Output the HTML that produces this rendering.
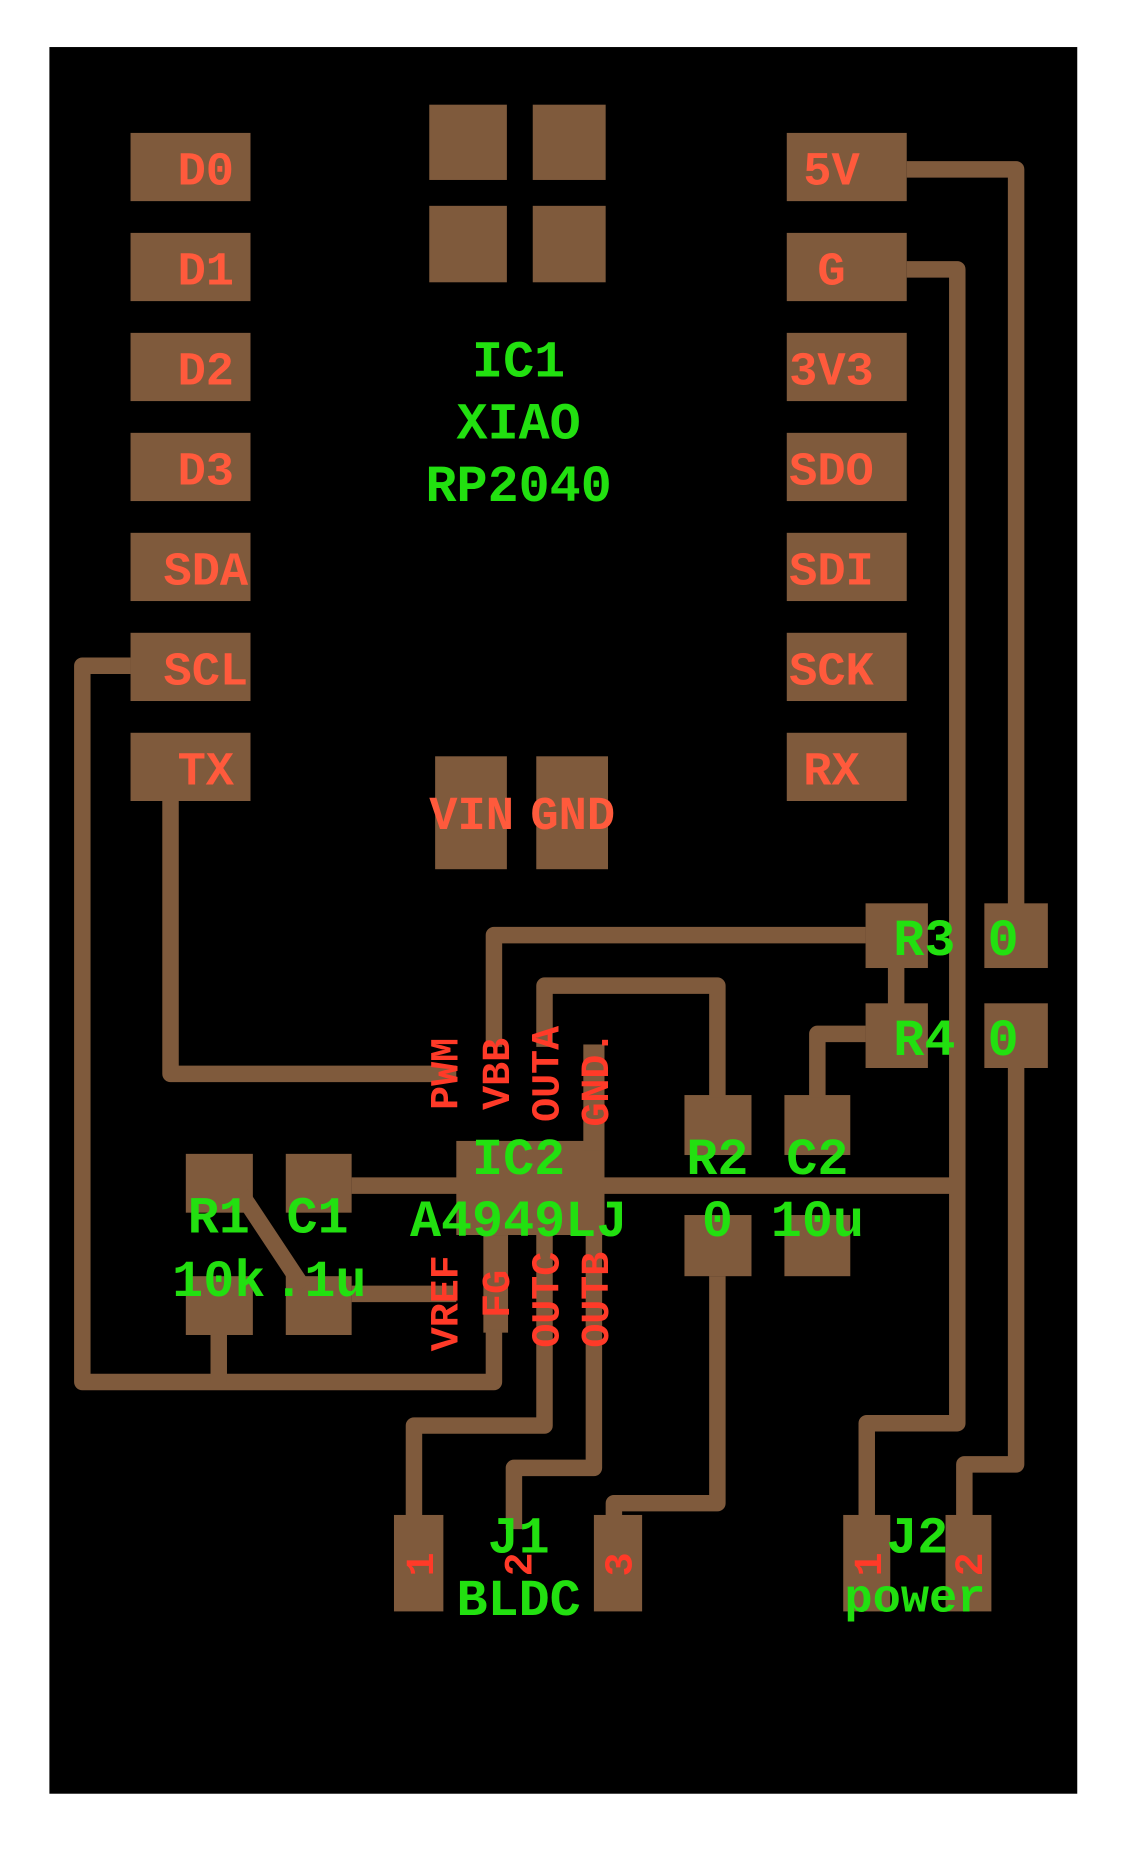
<!DOCTYPE html>
<html><head><meta charset="utf-8"><style>html,body{margin:0;padding:0;background:#fff}svg{display:block}</style></head>
<body>
<svg width="1129" height="1849" viewBox="0 0 960 1572" preserveAspectRatio="none" xmlns="http://www.w3.org/2000/svg">
<rect x="0" y="0" width="960" height="1572" fill="#fff"/>
<rect x="42" y="40" width="874" height="1485" fill="#000"/>
<g fill="#7f5a3c">
<rect x="111" y="113" width="102" height="58"/><rect x="111" y="198" width="102" height="58"/><rect x="111" y="283" width="102" height="58"/><rect x="111" y="368" width="102" height="58"/><rect x="111" y="453" width="102" height="58"/><rect x="111" y="538" width="102" height="58"/><rect x="111" y="623" width="102" height="58"/>
<rect x="669" y="113" width="102" height="58"/><rect x="669" y="198" width="102" height="58"/><rect x="669" y="283" width="102" height="58"/><rect x="669" y="368" width="102" height="58"/><rect x="669" y="453" width="102" height="58"/><rect x="669" y="538" width="102" height="58"/><rect x="669" y="623" width="102" height="58"/>
<rect x="365" y="89" width="66" height="64"/><rect x="453" y="89" width="62" height="64"/><rect x="365" y="175" width="66" height="65"/><rect x="453" y="175" width="62" height="65"/>
<rect x="370" y="643" width="61" height="96"/><rect x="456" y="643" width="61" height="96"/>
<rect x="736" y="768" width="53" height="55"/><rect x="837" y="768" width="54" height="55"/>
<rect x="736" y="853" width="53" height="55"/><rect x="837" y="853" width="54" height="55"/>
<rect x="582" y="931" width="57" height="51"/><rect x="582" y="1033" width="57" height="52"/>
<rect x="667" y="931" width="56" height="51"/><rect x="667" y="1033" width="56" height="52"/>
<rect x="158" y="981" width="57" height="50"/><rect x="158" y="1085" width="57" height="50"/>
<rect x="243" y="981" width="56" height="50"/><rect x="243" y="1085" width="56" height="50"/>
<rect x="388" y="970" width="126" height="80"/><rect x="496" y="888" width="18" height="90"/>
<rect x="411" y="1050" width="21" height="83"/>
<rect x="335" y="1288" width="42" height="82"/><rect x="505" y="1288" width="41" height="82"/>
<rect x="717" y="1288" width="40" height="82"/><rect x="804" y="1288" width="39" height="82"/>
</g>
<g fill="none" stroke="#7f5a3c" stroke-width="14" stroke-linejoin="round">
<path d="M771 144 H864 V770"/>
<path d="M771 229 H814 V1210 H737 V1292"/>
<path d="M299 1008 H814"/>
<path d="M864 905 V1245 H820 V1292"/>
<path d="M736 795 H420 V890"/>
<path d="M762 820 V856"/>
<path d="M736 879 H695 V933"/>
<path d="M463 890 V838 H610 V933"/>
<path d="M145 681 V913 H388"/>
<path d="M111 566 H70 V1175 H420 V1130"/>
<path d="M186 1135 V1175"/>
<path d="M205 1015 L258 1095"/>
<path d="M299 1100 H388"/>
<path d="M463 1050 V1212 H352 V1292"/>
<path d="M505 1050 V1248 H437 V1300"/>
<path d="M610 1085 V1278 H522 V1292"/>
</g>
<g font-family="Liberation Mono, monospace" font-weight="bold" font-size="40" fill="#ff5a3c" text-anchor="middle">
<text x="175" y="157">D0</text><text x="175" y="242">D1</text><text x="175" y="327">D2</text><text x="175" y="412">D3</text><text x="175" y="497">SDA</text><text x="175" y="582">SCL</text><text x="175" y="667">TX</text>
<text x="707" y="157">5V</text><text x="707" y="242">G</text><text x="707" y="327">3V3</text><text x="707" y="412">SDO</text><text x="707" y="497">SDI</text><text x="707" y="582">SCK</text><text x="707" y="667">RX</text>
<text x="401" y="705">VIN</text><text x="487" y="705">GND</text>
</g>
<g font-family="Liberation Mono, monospace" font-weight="bold" font-size="34" fill="#ff3a28" text-anchor="middle">
<text transform="translate(389,913) rotate(-90)">PWM</text>
<text transform="translate(433,913) rotate(-90)">VBB</text>
<text transform="translate(475,913) rotate(-90)">OUTA</text>
<text transform="translate(517,917) rotate(-90)">GND.</text>
<text transform="translate(389,1108) rotate(-90)">VREF</text>
<text transform="translate(433,1100) rotate(-90)">FG</text>
<text transform="translate(475,1105) rotate(-90)">OUTC</text>
<text transform="translate(517,1105) rotate(-90)">OUTB</text>
<text transform="translate(368,1330) rotate(-90)">1</text>
<text transform="translate(452,1330) rotate(-90)">2</text>
<text transform="translate(537,1330) rotate(-90)">3</text>
<text transform="translate(749,1330) rotate(-90)">1</text>
<text transform="translate(835,1330) rotate(-90)">2</text>
</g>
<g font-family="Liberation Mono, monospace" font-weight="bold" font-size="44" fill="#22e010" text-anchor="middle">
<text x="441" y="320">IC1</text><text x="441" y="373">XIAO</text><text x="441" y="426">RP2040</text>
<text x="441" y="998">IC2</text><text x="441" y="1051">A4949LJ</text>
<text x="786" y="812">R3</text><text x="853" y="812">0</text>
<text x="786" y="897">R4</text><text x="853" y="897">0</text>
<text x="610" y="998">R2</text><text x="610" y="1051">0</text>
<text x="695" y="998">C2</text><text x="695" y="1051">10u</text>
<text x="186" y="1048">R1</text><text x="186" y="1102">10k</text>
<text x="270" y="1048">C1</text><text x="272" y="1102">.1u</text>
<text x="441" y="1320">J1</text><text x="441" y="1373">BLDC</text>
<text x="780" y="1320">J2</text>
<text x="778" y="1370" font-size="40">power</text>
</g>
</svg>
</body></html>
